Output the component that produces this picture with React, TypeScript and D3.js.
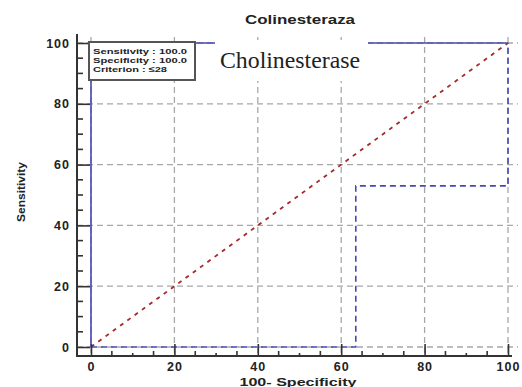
import React, { useRef, useEffect } from "react";
import * as d3 from "d3";

// ROC curve and its lower bound
const rocX = [0, 0, 100];
const rocY = [0, 100, 100];
const lowerX = [0, 63.5, 63.5, 100, 100];
const lowerY = [0, 0, 53, 53, 100];
const diagX = [0, 100];
const diagY = [0, 100];
const ticks = [0, 20, 40, 60, 80, 100];
const minorTicks = d3.range(0, 101, 5).filter((v) => v % 20 !== 0);
const legendLines = ["Sensitivity : 100.0", "Specificity : 100.0", "Criterion : \u226428"];
const title = "Colinesteraza";
const overlayLabel = "Cholinesterase";
const xLabel = "100- Specificity";
const yLabel = "Sensitivity";

const W = 522;
const H = 387;

export default function App() {
  const svgRef = useRef<SVGSVGElement | null>(null);

  useEffect(() => {
    const svg = d3.select(svgRef.current);
    svg.selectAll("*").remove();

    const x = d3.scaleLinear().domain([0, 100]).range([91, 508]);
    const y = d3.scaleLinear().domain([0, 100]).range([347, 43]);
    const axisX = 77; // y axis position
    const axisY = 356; // x axis position
    const sans = "'Liberation Sans', Arial, sans-serif";

    // grid
    const grid = svg.append("g").attr("stroke", "#a8a8a8").attr("stroke-width", 1.3).attr("stroke-dasharray", "6,4");
    ticks.forEach((t) => {
      grid.append("line").attr("x1", x(t)).attr("x2", x(t)).attr("y1", 37).attr("y2", axisY);
      grid.append("line").attr("x1", axisX).attr("x2", 518).attr("y1", y(t)).attr("y2", y(t));
    });

    const line = d3
      .line<[number, number]>()
      .x((d) => x(d[0]))
      .y((d) => y(d[1]));

    // diagonal
    svg
      .append("path")
      .datum(diagX.map((v, i) => [v, diagY[i]] as [number, number]))
      .attr("d", line)
      .attr("fill", "none")
      .attr("stroke", "#a62a2a")
      .attr("stroke-width", 1.8)
      .attr("stroke-dasharray", "4,5");

    // lower bound (dashed)
    svg
      .append("path")
      .datum(lowerX.map((v, i) => [v, lowerY[i]] as [number, number]))
      .attr("d", line)
      .attr("fill", "none")
      .attr("stroke", "#4848b4")
      .attr("stroke-width", 1.6)
      .attr("stroke-dasharray", "6,4");

    // ROC curve
    svg
      .append("path")
      .datum(rocX.map((v, i) => [v, rocY[i]] as [number, number]))
      .attr("d", line)
      .attr("fill", "none")
      .attr("stroke", "#4848b4")
      .attr("stroke-width", 1.6);

    // y axis
    const yAx = svg
      .append("g")
      .attr("transform", `translate(${axisX},0)`)
      .call(d3.axisLeft(y).tickValues(ticks).tickSizeInner(-13).tickSizeOuter(0).tickPadding(7))
      .call((g) => g.select(".domain").remove());
    yAx.selectAll("line").attr("stroke", "#333").attr("stroke-width", 1.6);
    yAx
      .selectAll("text")
      .attr("fill", "#222")
      .attr("font-family", sans)
      .attr("font-size", 12.5)
      .attr("font-weight", "bold")
      .attr("letter-spacing", 1);
    minorTicks.forEach((t) => {
      svg.append("line").attr("x1", axisX).attr("x2", axisX + 6).attr("y1", y(t)).attr("y2", y(t)).attr("stroke", "#333").attr("stroke-width", 1.6);
    });
    svg.append("line").attr("x1", axisX).attr("x2", axisX).attr("y1", 34).attr("y2", axisY + 1).attr("stroke", "#333").attr("stroke-width", 2);

    // x axis
    const xAx = svg
      .append("g")
      .attr("transform", `translate(0,${axisY})`)
      .call(d3.axisBottom(x).tickValues(ticks).tickSizeInner(-12).tickSizeOuter(0).tickPadding(6))
      .call((g) => g.select(".domain").remove());
    xAx.selectAll("line").attr("stroke", "#333").attr("stroke-width", 1.6);
    xAx
      .selectAll("text")
      .attr("fill", "#222")
      .attr("font-family", sans)
      .attr("font-size", 12.5)
      .attr("font-weight", "bold")
      .attr("letter-spacing", 1);
    minorTicks.forEach((t) => {
      svg.append("line").attr("x1", x(t)).attr("x2", x(t)).attr("y1", axisY).attr("y2", axisY - (t % 10 === 0 ? 3 : 5)).attr("stroke", "#333").attr("stroke-width", 1.6);
    });
    svg.append("line").attr("x1", axisX - 1).attr("x2", 512).attr("y1", axisY).attr("y2", axisY).attr("stroke", "#333").attr("stroke-width", 2);

    // legend box
    svg.append("rect").attr("x", 89).attr("y", 42).attr("width", 106).attr("height", 38).attr("fill", "#fff").attr("stroke", "#555").attr("stroke-width", 2);
    legendLines.forEach((s, i) => {
      svg
        .append("text")
        .attr("x", 93)
        .attr("y", 54 + i * 9)
        .attr("font-family", sans)
        .attr("font-size", 8)
        .attr("font-weight", "bold")
        .attr("fill", "#222")
        .attr("textLength", i === 2 ? 74 : 94)
        .attr("lengthAdjust", "spacingAndGlyphs")
        .text(s);
    });

    // pasted label
    svg.append("rect").attr("x", 215).attr("y", 40).attr("width", 153).attr("height", 41).attr("fill", "#fff");
    svg
      .append("text")
      .attr("x", 220)
      .attr("y", 68)
      .attr("font-family", "'Liberation Serif', 'Times New Roman', serif")
      .attr("font-size", 23)
      .attr("fill", "#222")
      .attr("textLength", 140)
      .attr("lengthAdjust", "spacingAndGlyphs")
      .text(overlayLabel);

    // title and axis labels
    svg
      .append("text")
      .attr("x", 300)
      .attr("y", 24)
      .attr("text-anchor", "middle")
      .attr("font-family", sans)
      .attr("font-size", 12)
      .attr("font-weight", "bold")
      .attr("fill", "#222")
      .attr("textLength", 110)
      .attr("lengthAdjust", "spacingAndGlyphs")
      .text(title);

    svg
      .append("text")
      .attr("x", 298)
      .attr("y", 386)
      .attr("text-anchor", "middle")
      .attr("font-family", sans)
      .attr("font-size", 11.5)
      .attr("font-weight", "bold")
      .attr("fill", "#222")
      .attr("textLength", 117)
      .attr("lengthAdjust", "spacingAndGlyphs")
      .text(xLabel);

    svg
      .append("text")
      .attr("transform", `translate(25,192) rotate(-90)`)
      .attr("text-anchor", "middle")
      .attr("font-family", sans)
      .attr("font-size", 10)
      .attr("font-weight", "bold")
      .attr("fill", "#222")
      .attr("textLength", 60)
      .attr("lengthAdjust", "spacingAndGlyphs")
      .text(yLabel);
  }, []);

  return (
    <svg
      ref={svgRef}
      width={W}
      height={H}
      style={{ position: "absolute", left: 0, top: 0, background: "#fff" }}
    />
  );
}
